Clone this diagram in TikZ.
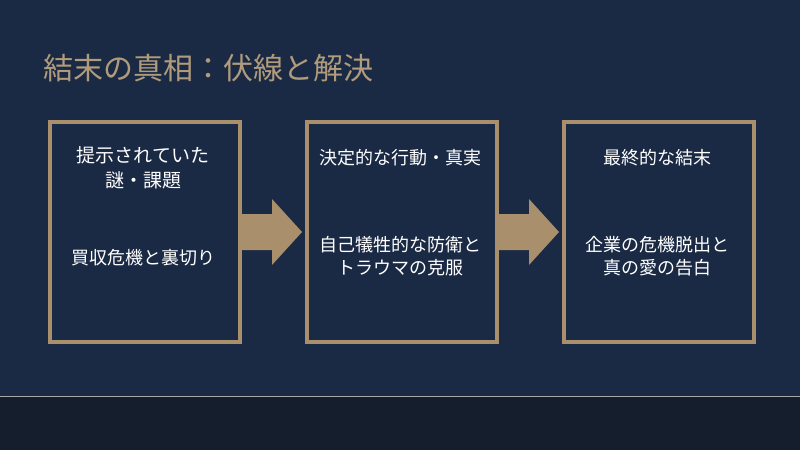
\documentclass[tikz,border=0pt]{standalone}
\usepackage{fontspec}
\setmainfont{Noto Sans CJK JP}
\definecolor{bg}{HTML}{1B2A44}
\definecolor{band}{HTML}{151E2D}
\definecolor{gold}{HTML}{A98F6C}
\definecolor{ttl}{HTML}{B09B7C}
\begin{document}
\begin{tikzpicture}[x=1pt,y=-1pt,
  card/.style={draw=gold,line width=4pt,minimum width=190pt,minimum height=220pt,anchor=north west},
  txt/.style={text=white,font=\fontsize{18}{23}\selectfont,align=center},
  flow/.style={fill=gold,draw=none}]
\fill[bg] (0,0) rectangle (800,450);
\useasboundingbox (0,0) rectangle (800,450);
\fill[band] (0,396) rectangle (800,450);
\draw[gray!70,line width=1pt] (0,396) -- (800,396);
\node[anchor=west,text=ttl,font=\fontsize{30}{34}\selectfont] (title) at (40,68) {結末の真相：伏線と解決};
\node[card] (b1) at (48,120) {};
\node[card] (b2) at (305,120) {};
\node[card] (b3) at (562,120) {};
\node[txt,font=\fontsize{19}{25}\selectfont] (t1a) at (143,168) {提示されていた\\謎・課題};
\node[txt] (t1b) at (143,258) {買収危機と裏切り};
\node[txt] (t2a) at (400,158) {決定的な行動・真実};
\node[txt] (t2b) at (400,256) {自己犠牲的な防衛と\\トラウマの克服};
\node[txt] (t3a) at (657,158) {最終的な結末};
\node[txt] (t3b) at (657,256) {企業の危機脱出と\\真の愛の告白};
\fill[flow] (b1.east) ++(0,-18) -- ++(30,0) -- ++(0,-15) -- ++(30,33) -- ++(-30,33) -- ++(0,-15) -- ++(-30,0) -- cycle;
\fill[flow] (b2.east) ++(0,-18) -- ++(30,0) -- ++(0,-15) -- ++(30,33) -- ++(-30,33) -- ++(0,-15) -- ++(-30,0) -- cycle;
\end{tikzpicture}
\end{document}
